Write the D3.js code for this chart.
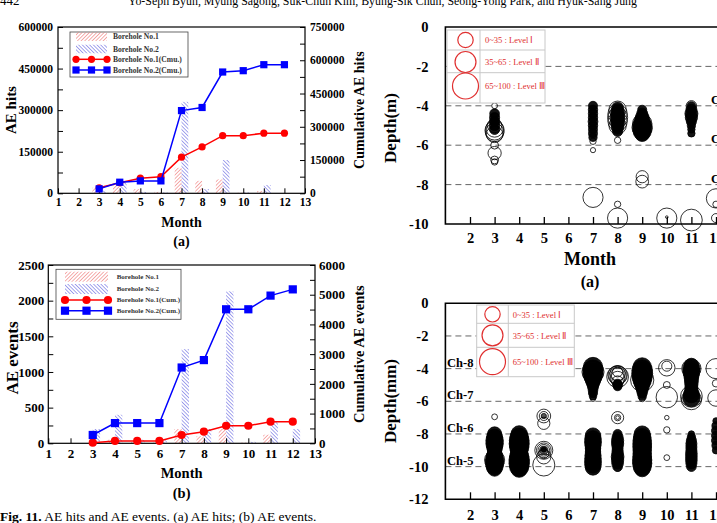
<!DOCTYPE html>
<html>
<head>
<meta charset="utf-8">
<script src="https://cdn.jsdelivr.net/npm/d3@7"></script>
<style>
  body { margin: 0; background: #fff; }
  svg { display: block; }
</style>
</head>
<body>
<svg id="fig" width="717" height="523"></svg>
<script>
// ---- data ----
const months = d3.range(1, 14);
const barMonths = [3, 4, 5, 6, 7, 8, 9, 10, 11, 12];

// AE hits per month (left axis) and cumulative (right axis)
const hitsNo1 = [20000, 30000, 15000, 5000, 92000, 45000, 50000, 2000, 8000, 0];
const hitsNo2 = [10000, 40000, 5000, 3000, 330000, 15000, 120000, 3000, 30000, 0];
const hitsCumNo1 = [25000, 48000, 68000, 75000, 163000, 209000, 260000, 260000, 271000, 271000];
const hitsCumNo2 = [20000, 50000, 56000, 56000, 373000, 387000, 547000, 553000, 580000, 580000];

// AE events per month and cumulative
const eventsNo1 = [0, 50, 20, 10, 200, 100, 200, 10, 120, 0];
const eventsNo2 = [200, 400, 50, 40, 1320, 200, 2130, 20, 300, 200];
const eventsCumNo1 = [20, 80, 80, 80, 280, 390, 590, 590, 727, 727];
const eventsCumNo2 = [280, 680, 680, 680, 2550, 2800, 4510, 4510, 4970, 5180];

const legendHits = ['Borehole No.1', 'Borehole No.2', 'Borehole No.1(Cmu.)', 'Borehole No.2(Cmu.)'];
const legendEvents = ['Borehole No.1', 'Borehole No.2', 'Borehole No.1(Cum.)', 'Borehole No.2(Cum.)'];

// bubble plots: [month, depth, amplitude, events at that spot]
const hitBubbles = [
  [3,-4.0,5,1],
  [3,-4.4,14,8],[3,-4.6,15,8],[3,-4.8,15,8],[3,-5.0,16,8],[3,-5.2,15,8],
  [3,-5.0,30,1],[3,-5.15,45,1],[3,-5.25,55,1],[3,-5.35,50,1],[3,-5.45,40,1],
  [3,-6.0,9,1],[3,-6.4,26,1],[3,-6.75,9,1],[3,-6.85,6,1],
  [7,-4.0,12,8],[7,-4.2,13,8],[7,-4.4,13,8],[7,-4.6,13,8],[7,-4.8,14,8],[7,-5.0,13,8],[7,-5.2,12,8],[7,-5.4,12,8],[7,-5.6,10,8],
  [7,-5.8,6,1],[7,-6.25,4,1],[7,-8.65,60,1],
  [8,-4.1,20,8],[8,-4.3,28,8],[8,-4.5,30,8],[8,-4.7,30,8],[8,-4.9,28,8],[8,-5.1,22,8],[8,-5.3,15,8],
  [8,-4.2,45,1],[8,-4.4,55,1],[8,-4.6,60,1],[8,-4.8,55,1],[8,-5.0,45,1],
  [8,-5.75,6,1],[8,-9.0,6,1],[8,-9.7,60,1],
  [9,-4.2,12,8],[9,-4.4,18,8],[9,-4.6,28,8],[9,-4.8,40,8],[9,-5.0,50,8],[9,-5.15,55,8],[9,-5.3,48,8],[9,-5.45,30,8],
  [9,-4.9,55,1],[9,-5.1,62,1],[9,-7.6,22,1],[9,-7.85,24,1],
  [10,-9.7,60,1],[10,-9.65,1,1],
  [11,-4.0,16,1],[11,-4.0,10,8],[11,-4.2,18,8],[11,-4.4,25,8],[11,-4.6,22,8],[11,-4.8,15,8],[11,-5.0,10,8],[11,-5.2,8,8],[11,-5.4,8,8],
  [11,-9.8,70,1],
  [12,-8.7,55,1],[12,-9.0,6,1],[12,-9.7,12,1]
];

const eventBubbles = [
  [3,-6.95,5,1],
  [3,-8.0,30,8],[3,-8.2,38,8],[3,-8.4,45,8],[3,-8.6,45,8],[3,-8.8,38,8],[3,-9.0,30,8],[3,-9.2,32,8],
  [3,-9.4,42,8],[3,-9.6,50,8],[3,-9.8,50,8],[3,-10.0,42,8],[3,-10.15,30,8],[3,-9.6,60,1],
  [4,-8.0,40,8],[4,-8.2,50,8],[4,-8.4,58,8],[4,-8.6,60,8],[4,-8.8,55,8],[4,-9.0,45,8],[4,-9.2,45,8],
  [4,-9.4,55,8],[4,-9.6,62,8],[4,-9.8,62,8],[4,-10.0,55,8],[4,-10.15,40,8],
  [5,-6.9,28,1],[5,-6.9,12,1],[5,-6.9,4,6],[5,-7.35,22,1],
  [5,-9.0,48,1],[5,-9.0,32,1],[5,-9.0,20,1],[5,-9.0,10,6],[5,-8.95,4,8],[5,-9.2,15,1],[5,-9.4,30,1],[5,-9.9,72,1],
  [7,-3.9,55,8],[7,-4.1,62,8],[7,-4.3,60,8],[7,-4.5,48,8],[7,-4.7,35,8],[7,-4.9,25,8],[7,-5.1,18,8],
  [7,-5.3,14,8],[7,-5.5,12,8],[7,-5.7,8,8],[7,-4.2,72,1],[7,-5.85,4,1],
  [7,-8.1,35,8],[7,-8.3,40,8],[7,-8.5,42,8],[7,-8.7,38,8],[7,-8.9,35,8],[7,-9.1,35,8],[7,-9.3,38,8],
  [7,-9.5,40,8],[7,-9.7,42,8],[7,-9.9,40,8],[7,-10.05,35,8],
  [8,-4.2,15,1],[8,-4.3,35,1],[8,-4.4,55,1],[8,-4.5,70,1],[8,-4.45,45,1],[8,-4.35,25,1],[8,-4.6,30,1],[8,-4.8,20,1],
  [8,-4.9,10,8],[8,-5.0,14,8],[8,-5.1,10,8],
  [8,-7.0,22,1],[8,-7.0,6,1],[8,-7.0,2,1],
  [8,-8.0,12,8],[8,-8.2,18,8],[8,-8.4,22,8],[8,-8.6,22,8],[8,-8.8,18,8],[8,-9.0,18,8],[8,-9.2,20,8],
  [8,-9.4,24,8],[8,-9.6,22,8],[8,-9.8,20,8],[8,-10.0,14,8],[8,-10.1,6,1],
  [9,-3.9,50,8],[9,-4.1,62,8],[9,-4.3,65,8],[9,-4.5,60,8],[9,-4.7,50,8],[9,-4.9,38,8],[9,-5.1,28,8],
  [9,-5.3,20,8],[9,-5.5,15,8],[9,-5.7,10,8],[9,-4.7,80,1],[9,-5.85,5,1],
  [9,-8.0,38,8],[9,-8.2,45,8],[9,-8.4,50,8],[9,-8.6,52,8],[9,-8.8,52,8],[9,-9.0,50,8],[9,-9.2,50,8],
  [9,-9.4,52,8],[9,-9.6,55,8],[9,-9.8,55,8],[9,-10.0,48,8],[9,-10.15,35,8],
  [10,-3.95,40,1],[10,-3.85,15,1],[10,-5.0,7,1],[10,-5.75,68,1],[10,-7.0,3,1],[10,-7.75,6,1],[10,-9.45,5,1],
  [11,-3.8,30,8],[11,-4.0,45,8],[11,-4.2,42,8],[11,-4.4,35,8],[11,-4.6,30,8],[11,-4.8,28,8],[11,-5.0,25,8],
  [11,-5.2,25,8],[11,-5.4,28,8],[11,-5.6,38,8],[11,-5.8,45,8],[11,-4.0,55,1],[11,-5.7,70,1],[11,-5.9,60,1],
  [11,-8.0,6,8],[11,-8.2,10,8],[11,-8.4,15,8],[11,-8.6,18,8],[11,-8.8,18,8],[11,-9.0,18,8],[11,-9.2,20,8],
  [11,-9.4,20,8],[11,-9.6,20,8],[11,-9.8,18,8],[11,-10.0,14,8],
  [12,-4.0,60,1],[12,-4.9,8,1],[12,-5.8,40,1],
  [12,-7.2,6,8],[12,-7.5,10,8],[12,-7.8,12,8],[12,-8.1,12,8],[12,-8.4,12,8],[12,-8.7,10,8],[12,-9.0,8,8]
];

const levelBounds = [35, 65, 100];
const levelLabels = ['0~35 : Level \u2160', '35~65 : Level \u2161', '65~100 : Level \u2162'];
const hitChannels = ['Ch-4', 'Ch-3', 'Ch-2'];
const hitChannelDepths = [-4, -6, -8];
const eventChannels = ['Ch-8', 'Ch-7', 'Ch-6', 'Ch-5'];
const eventChannelDepths = [-4, -6, -8, -10];

// ---- drawing ----
const SERIF = '"Liberation Serif", "Times New Roman", serif';
const svg = d3.select('#fig');
const defs = svg.append('defs');

function addHatch(id, color, angle) {
    const p = defs.append('pattern')
        .attr('id', id)
        .attr('patternUnits', 'userSpaceOnUse')
        .attr('width', 2.6).attr('height', 2.6)
        .attr('patternTransform', `rotate(${angle})`);
    p.append('line')
        .attr('x1', 0).attr('y1', 0).attr('x2', 0).attr('y2', 2.6)
        .attr('stroke', color).attr('stroke-width', 1.1);
}
addHatch('hatch1', '#ee6a6a', 45);
addHatch('hatch2', '#5b5be0', -45);

function styleAxis(sel, size) {
    sel.attr('font-family', SERIF).attr('font-size', size).attr('font-weight', 'bold');
    sel.select('.domain').remove();
    sel.selectAll('.tick line').attr('stroke', '#000');
    sel.selectAll('.tick text').attr('fill', '#000');
}

function boldText(g, x, y, txt, size, anchor, rotate) {
    const t = g.append('text')
        .attr('font-family', SERIF).attr('font-weight', 'bold')
        .attr('font-size', size).attr('text-anchor', anchor || 'middle')
        .text(txt);
    if (rotate) t.attr('transform', `translate(${x},${y}) rotate(${rotate})`);
    else t.attr('x', x).attr('y', y);
    return t;
}

function drawCombo(c) {
    const g = svg.append('g');
    const x = d3.scaleLinear().domain([1, 13]).range([c.left, c.right]);
    const y = d3.scaleLinear().domain([0, c.yMax]).range([c.bottom, c.top]);
    const y2 = d3.scaleLinear().domain([0, c.y2Max]).range([c.bottom, c.top]);
    const bw = 0.33;

    // monthly bars
    g.append('g').selectAll('rect')
        .data(barMonths.map((m, i) => ({m, v: c.bar1[i]})))
        .join('rect')
        .attr('x', d => x(d.m - bw)).attr('width', d => x(d.m) - x(d.m - bw))
        .attr('y', d => y(d.v)).attr('height', d => c.bottom - y(d.v))
        .attr('fill', 'url(#hatch1)');
    g.append('g').selectAll('rect')
        .data(barMonths.map((m, i) => ({m, v: c.bar2[i]})))
        .join('rect')
        .attr('x', d => x(d.m)).attr('width', d => x(d.m + bw) - x(d.m))
        .attr('y', d => y(d.v)).attr('height', d => c.bottom - y(d.v))
        .attr('fill', 'url(#hatch2)');

    // axes (ticks inward)
    g.append('g').attr('transform', `translate(${c.left},0)`)
        .call(d3.axisLeft(y).tickValues(d3.range(0, c.yMax + 1, c.yStep / 2))
            .tickSize(-5).tickPadding(c.padL)
            .tickFormat(d => d % c.yStep ? '' : String(d)))
        .call(styleAxis, c.fs);
    g.append('g').attr('transform', `translate(${c.right},0)`)
        .call(d3.axisRight(y2).tickValues(d3.range(0, c.y2Max + 1, c.y2Step / 2))
            .tickSize(-5).tickPadding(c.padR)
            .tickFormat(d => d % c.y2Step ? '' : String(d)))
        .call(styleAxis, c.fs);
    g.append('g').attr('transform', `translate(0,${c.bottom})`)
        .call(d3.axisBottom(x).tickValues(months).tickSize(-5).tickPadding(5).tickFormat(String))
        .call(styleAxis, c.fs);
    g.append('rect')
        .attr('x', c.left).attr('y', c.top)
        .attr('width', c.right - c.left).attr('height', c.bottom - c.top)
        .attr('fill', 'none').attr('stroke', '#000').attr('stroke-width', 1.2);

    // cumulative lines
    const line = d3.line().x((v, i) => x(barMonths[i])).y(v => y2(v));
    g.append('path').datum(c.cum1).attr('d', line)
        .attr('fill', 'none').attr('stroke', '#ff0000').attr('stroke-width', 1.5);
    g.append('g').selectAll('circle').data(c.cum1).join('circle')
        .attr('cx', (v, i) => x(barMonths[i])).attr('cy', v => y2(v))
        .attr('r', c.mk / 2).attr('fill', '#ff0000');
    g.append('path').datum(c.cum2).attr('d', line)
        .attr('fill', 'none').attr('stroke', '#0000ff').attr('stroke-width', 1.5);
    g.append('g').selectAll('rect').data(c.cum2).join('rect')
        .attr('x', (v, i) => x(barMonths[i]) - c.mk / 2).attr('y', v => y2(v) - c.mk / 2)
        .attr('width', c.mk).attr('height', c.mk).attr('fill', '#0000ff');

    // legend
    const L = c.legend;
    const lg = g.append('g');
    lg.append('rect').attr('x', L.x).attr('y', L.y).attr('width', L.w).attr('height', L.h)
        .attr('fill', '#fff').attr('stroke', '#444').attr('stroke-width', 0.8);
    c.labels.forEach((lab, i) => {
        const ry = L.rows[i];
        if (i < 2) {
            lg.append('rect').attr('x', L.sx1).attr('y', ry - L.sh / 2)
                .attr('width', L.sx2 - L.sx1).attr('height', L.sh)
                .attr('fill', i === 0 ? 'url(#hatch1)' : 'url(#hatch2)');
        } else {
            const col = i === 2 ? '#ff0000' : '#0000ff';
            lg.append('line').attr('x1', L.sx1).attr('x2', L.sx2).attr('y1', ry).attr('y2', ry)
                .attr('stroke', col).attr('stroke-width', 1.5);
            [L.sx1, (L.sx1 + L.sx2) / 2, L.sx2].forEach(px => {
                if (i === 2) lg.append('circle').attr('cx', px).attr('cy', ry).attr('r', c.mk / 2).attr('fill', col);
                else lg.append('rect').attr('x', px - c.mk / 2).attr('y', ry - c.mk / 2)
                    .attr('width', c.mk).attr('height', c.mk).attr('fill', col);
            });
        }
        boldText(lg, L.tx, ry + L.fs * 0.35, lab, L.fs, 'start').attr('fill', '#333');
    });

    // titles
    boldText(g, c.ylabX, c.ylabY, c.ylab, c.ylabFs, 'middle', -90);
    boldText(g, c.y2labX, (c.top + c.bottom) / 2, c.y2lab, c.titleFs, 'middle', -90);
    boldText(g, (c.left + c.right) / 2, c.monthY, 'Month', c.titleFs);
    boldText(g, (c.left + c.right) / 2, c.tagY, c.tag, c.titleFs);
}

function drawBubbles(c) {
    const g = svg.append('g');
    const x = d3.scaleLinear().domain([1, 13]).range([445.4, 740.6]);
    const y = d3.scaleLinear().domain([c.yMin, 0]).range([c.bottom, c.top]);
    const r = d3.scaleSqrt().domain([0, 100]).range([0, 13]);
    const shade = d3.scaleLinear().domain([1, 8]).range([0, 0.92]).clamp(true);

    g.append('g').selectAll('line').data(c.dashed).join('line')
        .attr('x1', x(1)).attr('x2', 740).attr('y1', d => y(d)).attr('y2', d => y(d))
        .attr('stroke', '#666').attr('stroke-width', 1).attr('stroke-dasharray', '6,4');

    g.append('g').selectAll('circle').data(c.data).join('circle')
        .attr('cx', d => x(d[0])).attr('cy', d => y(d[1])).attr('r', d => r(d[2]))
        .attr('fill', '#000').attr('fill-opacity', d => shade(d[3]))
        .attr('stroke', '#000').attr('stroke-width', 0.8);

    g.append('g').attr('transform', `translate(${x(1)},0)`)
        .call(d3.axisLeft(y).tickValues(d3.range(0, c.yMin - 1, -2)).tickSize(0).tickPadding(17).tickFormat(String))
        .call(styleAxis, 14.5);
    g.append('g').attr('transform', `translate(0,${c.bottom})`)
        .call(d3.axisBottom(x).tickValues(months.slice(1, 12)).tickSize(-7).tickPadding(c.xPad).tickFormat(String))
        .call(styleAxis, 14.5);
    g.selectAll('.tick line').attr('stroke-width', 1.3);

    g.append('path')
        .attr('d', `M740,${c.top}H${x(1)}V${c.bottom}H740`)
        .attr('fill', 'none').attr('stroke', '#000').attr('stroke-width', 1.6);

    // amplitude legend
    const L = c.legend;
    const lg = g.append('g');
    lg.append('rect').attr('x', L.x).attr('y', L.y).attr('width', L.w).attr('height', L.h)
        .attr('fill', '#fff').attr('stroke', '#c8c8c8');
    lg.append('line').attr('x1', L.col).attr('x2', L.col).attr('y1', L.y).attr('y2', L.y + L.h).attr('stroke', '#c8c8c8');
    L.rows.forEach(ry => lg.append('line').attr('x1', L.x).attr('x2', L.x + L.w)
        .attr('y1', ry).attr('y2', ry).attr('stroke', '#c8c8c8'));
    levelBounds.forEach((b, i) => {
        lg.append('circle').attr('cx', L.cx).attr('cy', L.cy[i]).attr('r', r(b))
            .attr('fill', 'none').attr('stroke', '#e03030').attr('stroke-width', 1.2);
        lg.append('text').attr('x', L.tx).attr('y', L.ty[i])
            .attr('font-family', SERIF).attr('font-size', 8.5).attr('fill', '#e03030')
            .text(levelLabels[i]);
    });

    // channel labels
    c.channels.forEach((ch, i) => {
        boldText(g, c.chX, y(c.chDepths[i]) - 2, ch, 12.5, 'start');
    });

    boldText(g, 396, c.depthY, c.ylab, 17, 'middle', -90);
    if (c.monthY) boldText(g, 590, c.monthY, 'Month', 18);
    if (c.tagY) boldText(g, 590, c.tagY, c.tag, 16);
}

drawCombo({
    left: 58, right: 305, top: 27, bottom: 193.3,
    yMax: 600000, yStep: 150000, y2Max: 750000, y2Step: 150000,
    bar1: hitsNo1, bar2: hitsNo2, cum1: hitsCumNo1, cum2: hitsCumNo2,
    fs: 11.5, padL: 5, padR: 5, mk: 7.2, titleFs: 14,
    legend: {x: 70, y: 32, w: 118, h: 45, rows: [36.7, 49, 59.3, 70], sx1: 76, sx2: 107, sh: 8.5, tx: 113, fs: 7.6},
    labels: legendHits,
    ylab: 'AE hits', ylabX: 16, ylabY: 110, ylabFs: 15, y2lab: 'Cumulative AE hits', y2labX: 364,
    monthY: 227, tagY: 245.5, tag: '(a)'
});

drawCombo({
    left: 48.3, right: 315, top: 265, bottom: 443.3,
    yMax: 2500, yStep: 500, y2Max: 6000, y2Step: 1000,
    bar1: eventsNo1, bar2: eventsNo2, cum1: eventsCumNo1, cum2: eventsCumNo2,
    fs: 13, padL: 4, padR: 4, mk: 8.2, titleFs: 14.5,
    legend: {x: 56, y: 269.3, w: 125, h: 50, rows: [276.7, 289, 300, 310.7], sx1: 65, sx2: 108, sh: 10, tx: 116.7, fs: 7},
    labels: legendEvents,
    ylab: 'AE events', ylabX: 18, ylabY: 358, ylabFs: 17, y2lab: 'Cumulative AE events', y2labX: 364,
    monthY: 478, tagY: 498, tag: '(b)'
});

drawBubbles({
    top: 27, bottom: 224, yMin: -10, dashed: [-2, -4, -6, -8],
    data: hitBubbles, xPad: 9,
    legend: {x: 447, y: 30, w: 98, h: 73, col: 480, rows: [50, 72.7], cx: 465.5, cy: [40, 62, 86], tx: 485, ty: [43, 65, 89]},
    channels: hitChannels, chDepths: hitChannelDepths, chX: 711,
    ylab: 'Depth(m)', depthY: 128, monthY: 265, tagY: 287, tag: '(a)'
});

drawBubbles({
    top: 303.3, bottom: 499.3, yMin: -12, dashed: [-2, -4, -6, -8, -10],
    data: eventBubbles, xPad: 10,
    legend: {x: 476.7, y: 305, w: 97.6, h: 71.7, col: 508.3, rows: [323.3, 347.3], cx: 492.5, cy: [314.3, 335.3, 361.7], tx: 512.7, ty: [318, 338.5, 365]},
    channels: eventChannels, chDepths: eventChannelDepths, chX: 447,
    ylab: 'Depth(mm)', depthY: 401
});

// page header (cut off at the top) and caption
svg.append('text').attr('x', 0).attr('y', 5).attr('font-family', SERIF).attr('font-size', 13).text('442');
svg.append('text').attr('x', 128).attr('y', 5).attr('font-family', SERIF).attr('font-size', 13)
    .attr('textLength', 509).attr('lengthAdjust', 'spacingAndGlyphs')
    .text('Yo-Seph Byun, Myung Sagong, Suk-Chun Kim, Byung-Sik Chun, Seong-Yong Park, and Hyuk-Sang Jung');
const cap = svg.append('text').attr('x', 0).attr('y', 521).attr('font-family', SERIF).attr('font-size', 13.5);
cap.append('tspan').attr('font-weight', 'bold').text('Fig. 11.');
cap.append('tspan').text(' AE hits and AE events. (a) AE hits; (b) AE events.');
</script>
</body>
</html>
